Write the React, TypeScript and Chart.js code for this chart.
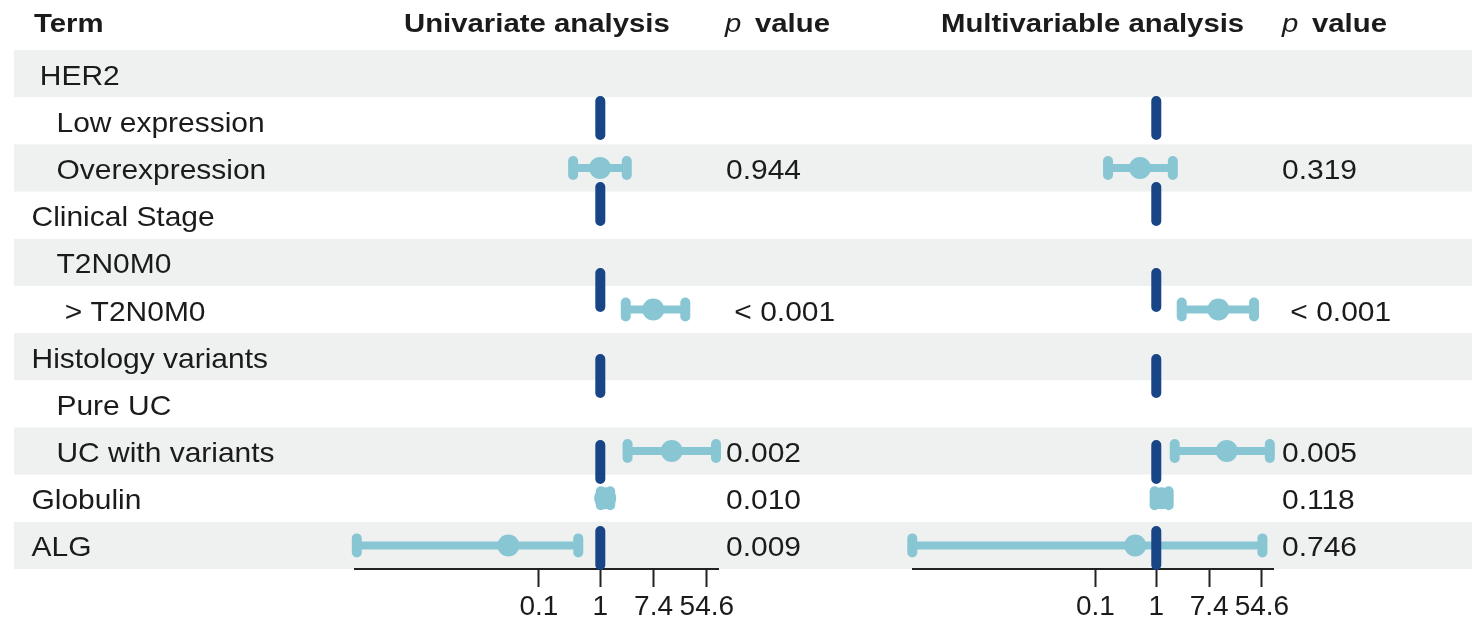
import React, { useEffect, useRef } from "react";
import { Chart, registerables } from "chart.js";

Chart.register(...registerables);

// ---------- data ----------
const TERMS = [
  " HER2",
  "   Low expression",
  "   Overexpression",
  "Clinical Stage",
  "   T2N0M0",
  "    > T2N0M0",
  "Histology variants",
  "   Pure UC",
  "   UC with variants",
  "Globulin",
  "ALG",
];
const UNI_EST = [null, null, 0.99, null, null, 7.3, null, null, 14.6, 1.2, 0.0317];
const UNI_LOW = [null, null, 0.36, null, null, 2.6, null, null, 2.78, 1.02, 0.000107];
const UNI_HIGH = [null, null, 2.7, null, null, 24.3, null, null, 77, 1.45, 0.437];
const UNI_P = ["", "", "0.944", "", "", " < 0.001", "", "", "0.002", "0.010", "0.009"];

const MULTI_EST = [null, null, 0.54, null, null, 10.5, null, null, 14.4, 1.22, 0.45];
const MULTI_LOW = [null, null, 0.161, null, null, 2.62, null, null, 2.01, 0.94, 0.0000973];
const MULTI_HIGH = [null, null, 1.87, null, null, 40.5, null, null, 73.6, 1.6, 55.6];
const MULTI_P = ["", "", "0.319", "", "", " < 0.001", "", "", "0.005", "0.118", "0.746"];

const HEADER_TERM = "Term";
const HEADER_UNI = "Univariate analysis";
const HEADER_MULTI = "Multivariable analysis";
const HEADER_P = ["p", "value"];

const TICK_VALUES = [0.1, 1, 7.389, 54.598];
const TICK_LABELS = ["0.1", "1", "7.4", "54.6"];
const X_MIN = 0.0001;
const X_MAX = 83;
const REF_VALUE = 1;

// ---------- layout / style ----------
const W = 1479;
const H = 620;
const Y_MIN = -1.56;
const Y_MAX = 10.5;
const FAMILY = "'Liberation Sans', Arial, Helvetica, sans-serif";
const CI_COLOR = "#89c6d4";
const REF_COLOR = "#184585";
const TEXT_COLOR = "#1b1b1b";
const BAND_COLOR = "#eff1f0";
const AXIS_COLOR = "#222222";

function drawScaledText(ctx: CanvasRenderingContext2D, text: string, x: number, y: number, font: string, sx: number) {
  ctx.save();
  ctx.font = font;
  ctx.fillStyle = TEXT_COLOR;
  ctx.textAlign = "left";
  ctx.textBaseline = "alphabetic";
  ctx.translate(x, y);
  ctx.scale(sx, 1);
  ctx.fillText(text, 0, 0);
  ctx.restore();
}

const tablePlugin = {
  id: "forestTable",
  beforeDraw(chart: any) {
    const ctx = chart.ctx;
    const ys = chart.scales.y;
    ctx.save();
    ctx.fillStyle = BAND_COLOR;
    TERMS.forEach((_, i) => {
      if (i % 2 !== 0) return;
      const t = ys.getPixelForValue(i - 0.5);
      const b = ys.getPixelForValue(i + 0.5);
      ctx.fillRect(14, t, 1458, b - t);
    });
    ctx.restore();
  },
  afterDraw(chart: any) {
    const ctx = chart.ctx;
    const ys = chart.scales.y;
    const hb = ys.getPixelForValue(-1) + 5.5;
    const hFont = `bold 25.5px ${FAMILY}`;
    const hSx = 1.15;
    drawScaledText(ctx, HEADER_TERM, 34, hb, hFont, hSx);
    drawScaledText(ctx, HEADER_UNI, 404, hb, hFont, hSx);
    drawScaledText(ctx, HEADER_MULTI, 941, hb, hFont, hSx);
    [725, 1282].forEach((px) => {
      drawScaledText(ctx, HEADER_P[0], px, hb, `italic 25.5px ${FAMILY}`, hSx);
      drawScaledText(ctx, HEADER_P[1], px + 30, hb, hFont, hSx);
    });
    const bFont = `28px ${FAMILY}`;
    const bSx = 1.07;
    TERMS.forEach((term, i) => {
      const yb = ys.getPixelForValue(i) + 11;
      drawScaledText(ctx, term, 31.5, yb, bFont, bSx);
      if (UNI_P[i]) drawScaledText(ctx, UNI_P[i], 726, yb, bFont, bSx);
      if (MULTI_P[i]) drawScaledText(ctx, MULTI_P[i], 1282, yb, bFont, bSx);
    });
  },
};

const roundCapPlugin = {
  id: "roundCaps",
  beforeDatasetDraw(chart: any, args: any) {
    const ds = chart.data.datasets[args.index];
    if (ds && ds.roundPoints) chart.ctx.lineCap = "round";
  },
  afterDatasetDraw(chart: any) {
    chart.ctx.lineCap = "butt";
  },
};

function makeConfig(est: (number | null)[], low: (number | null)[], high: (number | null)[], padLeft: number, padRight: number, withTable: boolean) {
  const rows = est.map((_, i) => i).filter((i) => est[i] != null);
  const datasets: any[] = [];
  datasets.push({
    type: "line",
    label: "ref",
    data: [
      { x: REF_VALUE, y: TERMS.length - 0.5 },
      { x: REF_VALUE, y: 0.5 },
    ],
    borderColor: REF_COLOR,
    borderWidth: 10,
    borderDash: [34, 52],
    borderDashOffset: -4,
    borderCapStyle: "round",
    pointRadius: 0,
    order: 0,
    clip: false,
  });
  datasets.push({
    type: "scatter",
    label: "estimate",
    data: rows.map((r) => ({ x: est[r], y: r })),
    pointStyle: "circle",
    pointRadius: 11,
    pointHoverRadius: 11,
    pointBackgroundColor: CI_COLOR,
    pointBorderWidth: 0,
    order: 1,
    clip: false,
  });
  datasets.push({
    type: "scatter",
    label: "caps",
    roundPoints: true,
    data: rows.flatMap((r) => [
      { x: low[r], y: r },
      { x: high[r], y: r },
    ]),
    pointStyle: "line",
    pointRotation: 90,
    pointRadius: 7,
    pointHoverRadius: 7,
    pointBorderColor: CI_COLOR,
    pointBackgroundColor: CI_COLOR,
    pointBorderWidth: 10,
    order: 2,
    clip: false,
  });
  rows.forEach((r) => {
    datasets.push({
      type: "line",
      label: "ci" + r,
      data: [
        { x: low[r], y: r },
        { x: high[r], y: r },
      ],
      borderColor: CI_COLOR,
      borderWidth: 8,
      borderCapStyle: "butt",
      pointRadius: 0,
      order: 3,
      clip: false,
    });
  });

  return {
    type: "scatter",
    data: { datasets },
    plugins: withTable ? [tablePlugin, roundCapPlugin] : [roundCapPlugin],
    options: {
      responsive: false,
      animation: false,
      devicePixelRatio: 1,
      events: [],
      layout: { autoPadding: false, padding: { left: padLeft, right: padRight, top: 0, bottom: 0 } },
      plugins: { legend: { display: false }, tooltip: { enabled: false } },
      scales: {
        x: {
          type: "logarithmic",
          position: "bottom",
          min: X_MIN,
          max: X_MAX,
          bounds: "data",
          afterBuildTicks: (s: any) => {
            s.ticks = TICK_VALUES.map((v) => ({ value: v }));
          },
          afterFit: (s: any) => {
            s.height = 51;
          },
          ticks: {
            callback: (_v: any, i: number) => TICK_LABELS[i],
            color: TEXT_COLOR,
            font: { family: FAMILY, size: 28 },
            padding: 3,
            maxRotation: 0,
            autoSkip: false,
          },
          grid: {
            display: true,
            drawOnChartArea: false,
            drawTicks: true,
            tickLength: 18,
            tickWidth: 2,
            tickColor: AXIS_COLOR,
          },
          border: { display: true, color: AXIS_COLOR, width: 2 },
        },
        y: {
          type: "linear",
          display: false,
          reverse: true,
          min: Y_MIN,
          max: Y_MAX,
          bounds: "data",
        },
      },
    },
  };
}

export default function App() {
  const leftRef = useRef<HTMLCanvasElement | null>(null);
  const rightRef = useRef<HTMLCanvasElement | null>(null);

  useEffect(() => {
    const left = new Chart(leftRef.current as HTMLCanvasElement, makeConfig(UNI_EST, UNI_LOW, UNI_HIGH, 355, W - 718, true) as any);
    const right = new Chart(rightRef.current as HTMLCanvasElement, makeConfig(MULTI_EST, MULTI_LOW, MULTI_HIGH, 913, W - 1273, false) as any);
    return () => {
      left.destroy();
      right.destroy();
    };
  }, []);

  return (
    <div style={{ position: "absolute", left: 0, top: 0, width: W, height: H, background: "#ffffff" }}>
      <canvas ref={leftRef} width={W} height={H} style={{ position: "absolute", left: 0, top: 0, width: W, height: H }} />
      <canvas ref={rightRef} width={W} height={H} style={{ position: "absolute", left: 0, top: 0, width: W, height: H }} />
    </div>
  );
}
